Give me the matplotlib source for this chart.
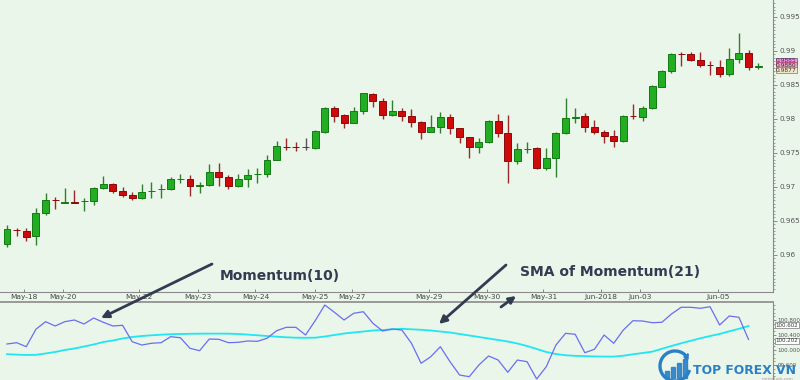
import matplotlib
matplotlib.use('Agg')
import matplotlib.pyplot as plt
import numpy as np
from matplotlib.patches import FancyArrowPatch, Arc, Rectangle
from matplotlib.ticker import MultipleLocator

# ---------------- data ----------------
opens = [0.96158, 0.96368, 0.96349, 0.96275, 0.96614, 0.96812, 0.96768, 0.96782, 0.96783, 0.96790,
         0.96981, 0.97040, 0.96937, 0.96878, 0.96834, 0.96930, 0.96960, 0.96967, 0.97107, 0.97114,
         0.97018, 0.97025, 0.97217, 0.97143, 0.97011, 0.97114, 0.97180, 0.97187, 0.97393, 0.97591,
         0.97591, 0.97580, 0.97570, 0.97805, 0.98158, 0.98055, 0.97937, 0.98114, 0.98364, 0.98261,
         0.98055, 0.98114, 0.98040, 0.97952, 0.97805, 0.97878, 0.98025, 0.97864, 0.97731, 0.97584,
         0.97658, 0.97967, 0.97790, 0.97378, 0.97548, 0.97570, 0.97275, 0.97422, 0.97790, 0.98018,
         0.98040, 0.97878, 0.97805, 0.97746, 0.97672, 0.98047, 0.98025, 0.98158, 0.98467, 0.98702,
         0.98959, 0.98952, 0.98864, 0.98797, 0.98761, 0.98658, 0.98878, 0.98967, 0.98768]
highs = [0.96437, 0.96393, 0.96393, 0.96687, 0.96908, 0.96849, 0.96981, 0.96952, 0.96834, 0.96996,
         0.97158, 0.97055, 0.96996, 0.96922, 0.97040, 0.97070, 0.97040, 0.97143, 0.97187, 0.97173,
         0.97070, 0.97334, 0.97349, 0.97173, 0.97187, 0.97261, 0.97275, 0.97467, 0.97672, 0.97717,
         0.97658, 0.97717, 0.97834, 0.98172, 0.98187, 0.98070, 0.98172, 0.98385, 0.98378, 0.98305,
         0.98275, 0.98158, 0.98143, 0.97960, 0.98055, 0.98099, 0.98070, 0.97870, 0.97735, 0.97717,
         0.97981, 0.98070, 0.98055, 0.97643, 0.97658, 0.97584, 0.97570, 0.97805, 0.98305, 0.98158,
         0.98084, 0.97981, 0.97834, 0.97834, 0.98055, 0.98217, 0.98187, 0.98496, 0.98717, 0.98967,
         0.98981, 0.98981, 0.98981, 0.98849, 0.98864, 0.99040, 0.99261, 0.99011, 0.98820]
lows = [0.96114, 0.96275, 0.96202, 0.96143, 0.96584, 0.96672, 0.96761, 0.96761, 0.96643, 0.96731,
        0.96967, 0.96908, 0.96849, 0.96805, 0.96820, 0.96834, 0.96834, 0.96952, 0.97055, 0.96864,
        0.96908, 0.97011, 0.97011, 0.96967, 0.96996, 0.96996, 0.97055, 0.97143, 0.97393, 0.97540,
        0.97525, 0.97540, 0.97555, 0.97790, 0.97952, 0.97864, 0.97937, 0.98070, 0.98172, 0.97996,
        0.98040, 0.97967, 0.97878, 0.97702, 0.97800, 0.97790, 0.97775, 0.97643, 0.97422, 0.97496,
        0.97643, 0.97731, 0.97055, 0.97334, 0.97496, 0.97268, 0.97246, 0.97143, 0.97775, 0.97937,
        0.97805, 0.97775, 0.97643, 0.97584, 0.97658, 0.97996, 0.97967, 0.98143, 0.98467, 0.98673,
        0.98775, 0.98849, 0.98761, 0.98643, 0.98614, 0.98628, 0.98820, 0.98717, 0.98732]
closes = [0.96378, 0.96357, 0.96261, 0.96614, 0.96805, 0.96798, 0.96782, 0.96768, 0.96797, 0.96981,
          0.97040, 0.96937, 0.96878, 0.96834, 0.96922, 0.96944, 0.96974, 0.97114, 0.97121, 0.97011,
          0.97032, 0.97217, 0.97143, 0.97011, 0.97114, 0.97173, 0.97194, 0.97393, 0.97599, 0.97577,
          0.97577, 0.97580, 0.97820, 0.98158, 0.98040, 0.97937, 0.98114, 0.98378, 0.98261, 0.98055,
          0.98114, 0.98040, 0.97952, 0.97805, 0.97878, 0.98025, 0.97864, 0.97731, 0.97584, 0.97658,
          0.97967, 0.97790, 0.97378, 0.97555, 0.97562, 0.97275, 0.97422, 0.97790, 0.98011, 0.98032,
          0.97878, 0.97805, 0.97746, 0.97672, 0.98040, 0.98033, 0.98158, 0.98481, 0.98702, 0.98952,
          0.98945, 0.98864, 0.98790, 0.98783, 0.98658, 0.98878, 0.98967, 0.98761, 0.98782]

momentum = [100.160, 100.195, 100.088, 100.552, 100.755, 100.640, 100.755, 100.800, 100.693, 100.853,
            100.739, 100.640, 100.659, 100.221, 100.133, 100.179, 100.195, 100.355, 100.328, 100.045,
            99.981, 100.293, 100.285, 100.195, 100.205, 100.240, 100.232, 100.312, 100.515, 100.605,
            100.605, 100.400, 100.781, 101.200, 101.005, 100.800, 100.979, 101.021, 100.712, 100.507,
            100.560, 100.533, 100.179, 99.645, 99.821, 100.088, 99.688, 99.333, 99.288, 99.600,
            99.840, 99.733, 99.405, 99.733, 99.688, 99.227, 99.555, 100.133, 100.445, 100.419,
            99.928, 100.019, 100.400, 100.179, 100.533, 100.781, 100.773, 100.728, 100.739, 100.960,
            101.139, 101.139, 101.112, 101.155, 100.667, 100.907, 100.872, 100.280]

sma_momentum = [99.888, 99.877, 99.867, 99.872, 99.907, 99.947, 100.000, 100.040, 100.093, 100.147,
                100.213, 100.253, 100.307, 100.347, 100.373, 100.392, 100.408, 100.421, 100.427, 100.432,
                100.435, 100.437, 100.437, 100.435, 100.427, 100.411, 100.392, 100.373, 100.355, 100.339,
                100.328, 100.325, 100.328, 100.360, 100.400, 100.440, 100.467, 100.493, 100.520, 100.533,
                100.552, 100.565, 100.552, 100.539, 100.520, 100.493, 100.467, 100.427, 100.387, 100.347,
                100.307, 100.267, 100.227, 100.173, 100.107, 100.027, 99.947, 99.893, 99.859, 99.845,
                99.837, 99.829, 99.824, 99.824, 99.848, 99.885, 99.920, 99.955, 100.032, 100.107,
                100.179, 100.245, 100.312, 100.373, 100.427, 100.499, 100.565, 100.640]

date_labels = ['May-18', 'May-20', 'May-22', 'May-23', 'May-24', 'May-25', 'May-27',
               'May-29', 'May-30', 'May-31', 'Jun-2018', 'Jun-03', 'Jun-05']
date_ticks = [1.8, 5.8, 13.7, 19.8, 25.8, 32.0, 35.8, 43.8, 49.8, 55.7, 61.7, 65.7, 73.8]

price_ticks = [0.96, 0.965, 0.97, 0.975, 0.98, 0.985, 0.99, 0.995]
price_tick_labels = ['0.96', '0.965', '0.97', '0.975', '0.98', '0.985', '0.99', '0.995']
mom_ticks = [99.6, 100.0, 100.4, 100.8]
mom_tick_labels = ['99.600', '100.000', '100.400', '100.800']

last_price_tags = [(0.9885, '0.9885'), (0.98785, '0.9880'), (0.98715, '0.9877')]
last_mom_tags = [(100.66, '100.602'), (100.25, '100.202')]

# ---------------- figure ----------------
BG = '#eaf6e9'
W, H = 800, 380
fig = plt.figure(figsize=(8, 3.8), dpi=100, facecolor=BG)

def fx(px):
    return px / W

def fy(py):
    return 1 - py / H

ax = fig.add_axes([0, fy(292), fx(773), fy(0) - fy(292)], facecolor=BG)
ax2 = fig.add_axes([0, 0, fx(773), fy(302)], facecolor=BG)

n = len(opens)
x = np.arange(n)
o = np.array(opens); h = np.array(highs); l = np.array(lows); c = np.array(closes)

up = c > o
down = c < o
body_col = np.where(up, '#22ad22', np.where(down, '#cf0a0a', '#555555'))
edge_col = np.where(up, '#137a13', np.where(down, '#8a0a0a', '#444444'))
wick_col = np.where(up, '#2f7f2f', np.where(down, '#9a2a2a', '#555555'))

ax.vlines(x, l, h, colors=wick_col, linewidth=1.0, zorder=2)
bottoms = np.minimum(o, c)
heights = np.maximum(np.abs(c - o), 0.00008)
ax.bar(x, heights, bottom=bottoms, width=0.72, color=body_col,
       edgecolor=edge_col, linewidth=0.7, zorder=3)

ax.set_xlim(-0.727, 79.54)
ax.set_ylim(0.95452, 0.99746)

for s in ['top', 'left']:
    ax.spines[s].set_visible(False)
ax.spines['right'].set_color('#8a8a8a')
ax.spines['right'].set_linewidth(0.8)
ax.spines['bottom'].set_color('#8a8a8a')
ax.spines['bottom'].set_linewidth(0.8)

ax.yaxis.tick_right()
ax.set_yticks(price_ticks)
ax.set_yticklabels(price_tick_labels)
ax.yaxis.set_minor_locator(MultipleLocator(0.0005))
ax.tick_params(axis='y', which='major', length=3, width=0.6, color='#777777',
               labelsize=5.2, labelcolor='#555555', pad=1.5)
ax.tick_params(axis='y', which='minor', length=1.5, width=0.5, color='#777777')

ax.set_xticks(date_ticks)
ax.set_xticklabels(date_labels)
ax.tick_params(axis='x', which='major', direction='in', length=2.5, width=0.6,
               color='#777777', labelsize=5.3, labelcolor='#444444', pad=1.2)

tag_colors = [('#ee99ee', '#883388'), ('#e8a6c0', '#aa3355'), ('#f3e6c8', '#8a7a55')]
for (val, txt), (fc, ec) in zip(last_price_tags, tag_colors):
    ax.text(1.004, val, txt, transform=ax.get_yaxis_transform(), fontsize=4.3,
            color='#333333', va='center', ha='left', clip_on=False, zorder=5,
            bbox=dict(boxstyle='square,pad=0.08', fc=fc, ec=ec, lw=0.5))

# ---------------- lower panel ----------------
xm = np.arange(len(momentum))
ax2.plot(xm, momentum, color='#6a6ef0', linewidth=0.9, zorder=3)
ax2.plot(np.arange(len(sma_momentum)), sma_momentum, color='#1fe6f2', linewidth=1.3, zorder=2)
ax2.set_xlim(-0.727, 79.54)
ax2.set_ylim(99.2, 101.28)
for s in ['left', 'bottom']:
    ax2.spines[s].set_visible(False)
ax2.spines['top'].set_color('#999999')
ax2.spines['top'].set_linewidth(1.4)
ax2.spines['right'].set_color('#8a8a8a')
ax2.spines['right'].set_linewidth(0.8)
ax2.set_xticks([])
ax2.yaxis.tick_right()
ax2.set_yticks(mom_ticks)
ax2.set_yticklabels(mom_tick_labels)
ax2.yaxis.set_minor_locator(MultipleLocator(0.1))
ax2.tick_params(axis='y', which='major', length=2.5, width=0.6, color='#777777',
                labelsize=4.1, labelcolor='#555555', pad=0.8)
ax2.tick_params(axis='y', which='minor', length=1.5, width=0.5, color='#777777')
for val, txt in last_mom_tags:
    ax2.text(1.003, val, txt, transform=ax2.get_yaxis_transform(), fontsize=4.0,
             color='#333333', va='center', ha='left', clip_on=False, zorder=5,
             bbox=dict(boxstyle='square,pad=0.08', fc='white', ec='#777777', lw=0.5))

# ---------------- annotations ----------------
ANN = '#323b52'
fig.text(fx(220), fy(276), 'Momentum(10)', fontsize=10, fontweight='bold',
         color=ANN, va='center', ha='left')
fig.text(fx(520), fy(272), 'SMA of Momentum(21)', fontsize=10, fontweight='bold',
         color=ANN, va='center', ha='left')

def arrow(p0, p1, ms=11):
    a = FancyArrowPatch((fx(p0[0]), fy(p0[1])), (fx(p1[0]), fy(p1[1])),
                        transform=fig.transFigure, arrowstyle='-|>',
                        mutation_scale=ms, color=ANN, linewidth=2.0,
                        shrinkA=0, shrinkB=0, zorder=10)
    fig.add_artist(a)

arrow((212, 264), (101, 318))
arrow((506, 265), (439, 324))
arrow((501, 307), (516, 296), ms=10)

# ---------------- logo ----------------
LOGO = '#2a80c6'
cx, cy = 675, 366
arc = Arc((fx(cx), fy(cy)), width=fx(30), height=30 / H, angle=0, theta1=60, theta2=330,
          transform=fig.transFigure, color=LOGO, linewidth=2.4)
fig.add_artist(arc)
bar_x = [665, 671, 677, 683]
bar_h = [7, 11, 15, 19]
for bx, bh in zip(bar_x, bar_h):
    fig.add_artist(Rectangle((fx(bx), fy(378)), fx(4), bh / H, transform=fig.transFigure,
                             color=LOGO, alpha=0.9))
arrow_logo = FancyArrowPatch((fx(684), fy(362)), (fx(690), fy(350)), transform=fig.transFigure,
                             arrowstyle='-|>', mutation_scale=7, color=LOGO, linewidth=1.4)
fig.add_artist(arrow_logo)
fig.text(fx(693), fy(371), 'TOP FOREX VN', fontsize=8.9, fontweight='bold', color=LOGO,
         va='center', ha='left', zorder=20)
fig.text(fx(762), fy(378.5), 'metastock.com', fontsize=3.0, color='#9a9a9a',
         va='center', ha='left')

fig.savefig('out.png', dpi=100, facecolor=BG)
